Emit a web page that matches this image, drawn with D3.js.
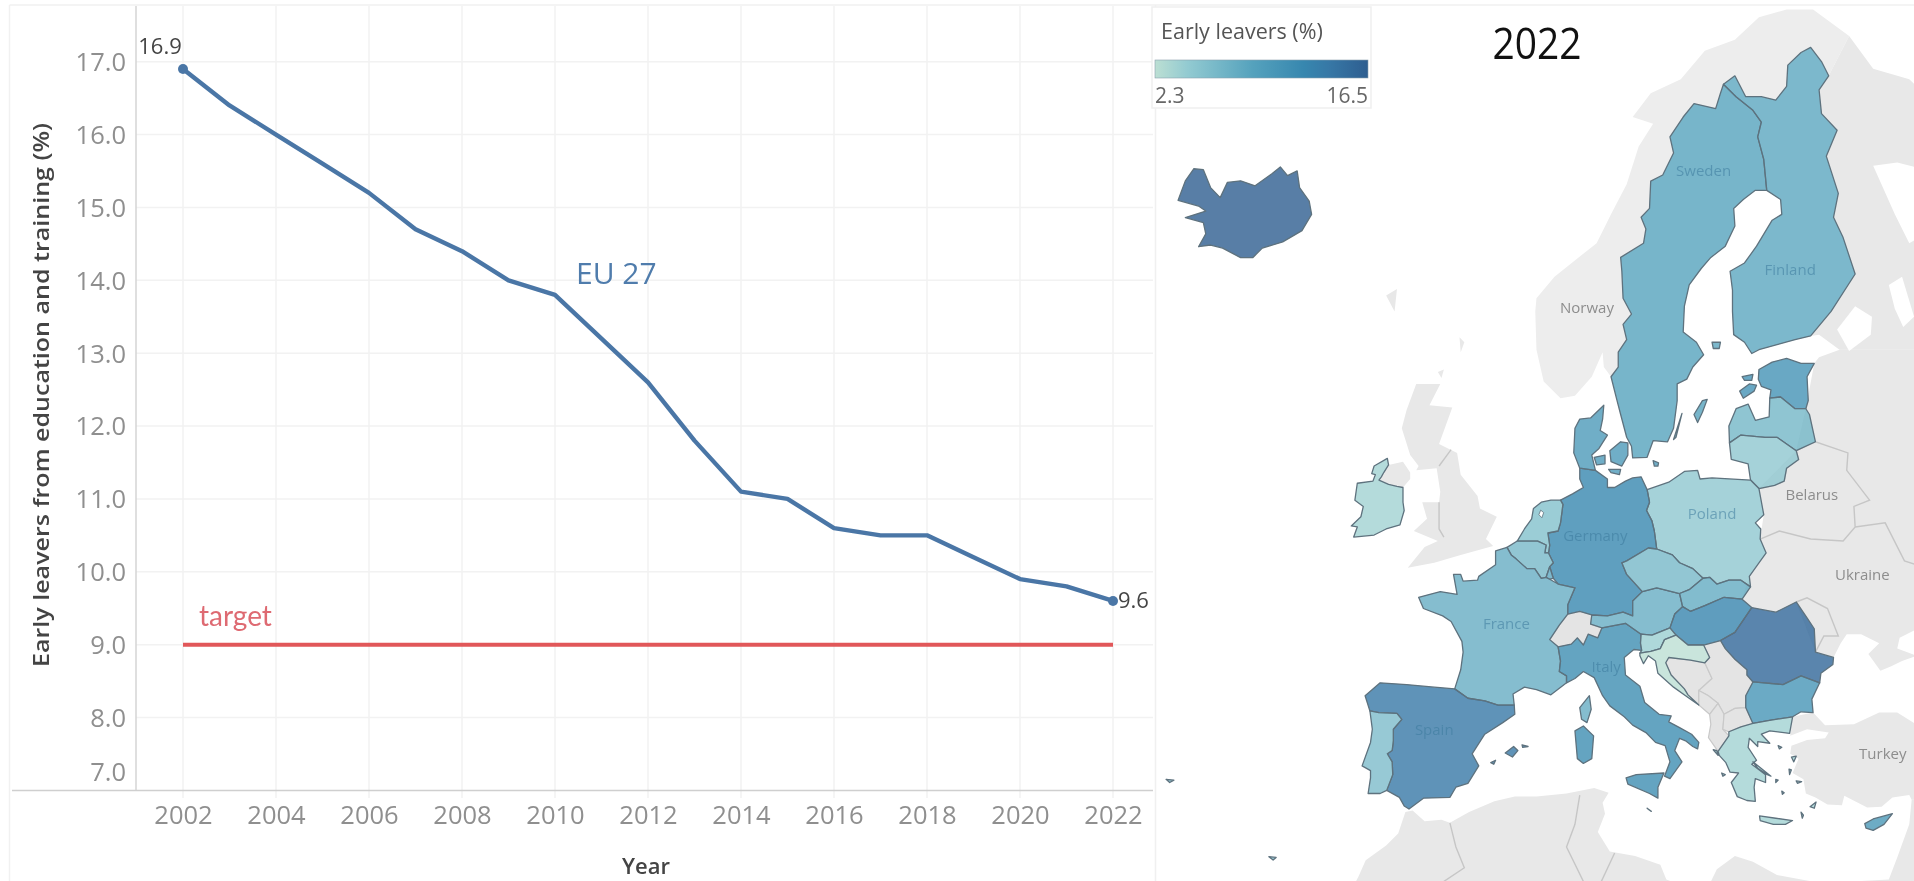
<!DOCTYPE html>
<html><head><meta charset="utf-8">
<style>html,body{margin:0;padding:0;background:#fff}svg{display:block;filter:blur(0.45px)}text{font-family:"Open Sans",sans-serif}</style>
<script src="https://cdnjs.cloudflare.com/ajax/libs/d3/7.8.5/d3.min.js"></script>
</head><body><svg id="c" width="1914" height="881"></svg>
<script>
// ---------- line chart data ----------
const years=[2002,2003,2004,2005,2006,2007,2008,2009,2010,2011,2012,2013,2014,2015,2016,2017,2018,2019,2020,2021,2022];
const earlyLeavers=[16.9,16.4,16.0,15.6,15.2,14.7,14.4,14.0,13.8,13.2,12.6,11.8,11.1,11.0,10.6,10.5,10.5,10.2,9.9,9.8,9.6];
const targetValue=[9,9];
const targetYears=[2002,2022];
const yTicks=[7,8,9,10,11,12,13,14,15,16,17];
const xTicks=[2002,2004,2006,2008,2010,2012,2014,2016,2018,2020,2022];
// ---------- map data (lon,lat rings) ----------
const euNames=["Iceland","Sweden","Finland","Estonia","Latvia","Lithuania","Poland","Germany","Denmark","Netherlands","Belgium","Luxembourg","France","Spain","Portugal","Ireland","Italy","Austria","Czechia","Slovakia","Hungary","Slovenia","Croatia","Romania","Bulgaria","Greece","Cyprus","Malta"];
const euValues=[16.5,8.8,8.4,10.8,6.7,4.8,4.8,12.2,9.8,5.6,6.4,8.2,7.6,13.9,6.0,3.7,11.5,7.6,6.4,7.8,12.4,4.1,2.3,15.6,10.5,3.7,10.2,10.1];
const euRings=[
[[[-24.8,65.47],[-24.2,66.11],[-23.5,66.5],[-22.7,66.47],[-22.1,65.89],[-21.3,65.56],[-20.7,66.06],[-19.6,66.11],[-18.4,65.95],[-17.0,66.34],[-16.3,66.56],[-15.7,66.28],[-14.9,66.43],[-14.7,65.89],[-13.9,65.44],[-13.7,65.0],[-14.5,64.44],[-16.1,64.05],[-17.8,63.83],[-18.6,63.49],[-19.6,63.49],[-21.1,63.83],[-22.1,63.94],[-23.1,63.88],[-22.5,64.33],[-22.7,64.72],[-24.2,64.89],[-22.5,65.11],[-23.1,65.28]]],
[[[20.55,69.06],[21.6,68.7],[23.0,68.3],[23.7,67.95],[23.4,67.5],[23.9,66.8],[24.15,65.8],[23.2,65.8],[22.2,65.5],[21.4,65.2],[21.5,64.6],[20.7,63.9],[19.5,63.5],[18.7,63.1],[17.7,62.5],[17.3,61.7],[17.2,60.7],[18.3,60.3],[18.9,59.8],[18.0,59.3],[17.5,58.8],[16.7,58.6],[16.7,57.9],[16.4,56.7],[15.9,56.1],[14.7,56.15],[14.2,55.4],[13.0,55.37],[12.9,55.9],[12.5,56.3],[12.0,57.3],[11.7,57.9],[11.2,58.9],[11.8,59.3],[11.8,59.9],[12.5,60.4],[12.2,61.0],[12.9,61.4],[12.2,62.0],[12.1,63.0],[12.0,63.5],[13.9,64.0],[14.1,64.5],[13.7,64.9],[14.4,65.2],[14.5,66.1],[15.5,66.3],[16.4,67.0],[16.1,67.5],[17.2,68.1],[18.1,68.5],[19.9,68.35],[20.3,68.8]],[[18.1,57.3],[18.8,57.9],[19.2,57.95],[18.8,57.4],[18.4,56.95]],[[16.4,56.2],[17.1,57.35],[16.6,56.3]]],
[[[20.55,69.06],[21.5,69.3],[22.4,68.7],[23.7,68.7],[24.9,68.6],[25.8,69.0],[25.9,69.6],[27.0,69.95],[27.8,70.09],[28.7,69.7],[29.3,69.3],[28.5,68.9],[28.7,68.2],[30.0,67.7],[29.1,66.9],[30.1,65.7],[29.7,64.9],[30.5,64.2],[31.5,62.9],[29.5,61.5],[27.8,60.55],[26.5,60.4],[25.0,60.2],[23.5,60.0],[22.9,59.85],[22.3,60.3],[21.4,60.6],[21.3,61.5],[21.3,62.3],[21.1,63.0],[22.3,63.3],[23.3,63.9],[24.6,64.8],[25.4,65.0],[25.3,65.5],[24.15,65.8],[23.9,66.8],[23.4,67.5],[23.7,67.95],[23.0,68.3],[21.6,68.7]],[[19.6,60.3],[20.3,60.3],[20.2,60.05],[19.7,60.05]]],
[[[23.5,59.2],[24.6,59.5],[25.8,59.65],[27.0,59.45],[28.1,59.45],[27.5,58.9],[27.6,57.9],[27.4,57.55],[26.5,57.55],[25.3,58.05],[24.4,58.0],[24.5,58.35],[23.7,58.5],[23.45,58.8]],[[21.9,58.3],[22.7,58.6],[23.3,58.55],[23.1,58.3],[22.2,58.0]],[[22.1,58.9],[23.0,59.0],[22.9,58.75],[22.3,58.75]]],
[[[21.0,56.8],[21.05,56.05],[22.0,56.4],[24.0,56.3],[25.0,56.3],[26.6,55.7],[28.2,56.1],[27.7,57.3],[27.4,57.55],[26.5,57.55],[25.3,58.05],[24.4,58.0],[24.35,57.2],[23.2,57.05],[22.6,57.75],[21.6,57.55]]],
[[[21.05,56.05],[21.2,55.3],[22.6,55.1],[22.8,54.35],[23.5,53.95],[24.8,54.1],[25.6,54.3],[25.8,54.9],[26.8,55.3],[26.6,55.7],[25.0,56.3],[24.0,56.3],[22.0,56.4]]],
[[[14.2,53.9],[16.0,54.25],[17.3,54.75],[18.4,54.8],[18.6,54.4],[19.6,54.45],[22.8,54.35],[23.5,53.95],[23.9,52.7],[23.2,52.3],[23.65,52.0],[23.6,51.5],[24.1,50.8],[23.5,50.3],[22.7,49.6],[22.8,49.05],[22.0,49.4],[21.0,49.4],[20.0,49.2],[19.4,49.55],[18.85,49.5],[18.0,50.0],[16.9,50.3],[16.3,50.7],[15.0,51.0],[14.8,51.9],[14.6,52.4],[14.15,52.9],[14.4,53.3]]],
[[[7.0,53.4],[8.0,53.7],[8.6,53.9],[8.9,54.0],[8.6,54.4],[8.6,54.9],[9.9,54.8],[10.9,54.4],[10.9,54.0],[11.5,54.0],[12.4,54.3],[13.0,54.45],[13.7,54.5],[14.2,53.9],[14.4,53.3],[14.15,52.9],[14.6,52.4],[14.8,51.9],[15.0,51.0],[14.3,51.05],[12.5,50.4],[12.1,50.3],[12.5,49.7],[13.8,48.8],[13.0,48.3],[13.0,47.5],[12.2,47.7],[10.9,47.5],[9.6,47.55],[8.6,47.75],[7.6,47.6],[7.6,48.1],[8.2,49.0],[6.8,49.2],[6.4,49.5],[6.1,50.1],[6.4,50.3],[6.0,50.8],[6.1,51.2],[5.95,51.8],[6.8,51.9],[7.0,52.3],[7.2,53.2]]],
[[[8.6,54.9],[8.1,55.6],[8.2,56.7],[8.6,57.1],[9.5,57.15],[10.6,57.7],[10.5,57.1],[10.3,56.6],[10.9,56.4],[10.2,55.8],[9.6,55.5],[9.9,54.8]],[[11.1,55.7],[12.0,56.1],[12.6,56.05],[12.6,55.5],[12.1,55.0],[11.2,55.2]],[[9.8,55.4],[10.7,55.5],[10.7,55.1],[10.0,55.05]],[[11.0,54.85],[12.0,54.85],[11.9,54.6],[11.2,54.7]],[[14.7,55.25],[15.15,55.15],[15.1,55.0],[14.8,55.0]]],
[[[3.4,51.4],[4.0,52.0],[4.6,52.5],[4.75,53.0],[5.4,53.3],[6.2,53.4],[7.0,53.4],[7.2,53.2],[7.0,52.3],[6.8,51.9],[5.95,51.8],[6.1,51.2],[6.0,50.8],[5.7,50.8],[5.8,51.2],[5.1,51.4],[4.3,51.4]]],
[[[2.55,51.08],[3.4,51.4],[4.3,51.4],[5.1,51.4],[5.8,51.2],[5.7,50.8],[6.0,50.8],[6.4,50.3],[6.1,50.1],[5.8,49.55],[5.4,49.5],[4.85,50.0],[4.2,50.0],[3.3,50.5],[2.9,50.7]]],
[[[5.8,49.55],[6.1,50.1],[6.4,49.5],[6.1,49.45]]],
[[[2.55,51.08],[1.6,50.9],[1.6,50.2],[0.2,49.6],[0.1,49.4],[-1.1,49.35],[-1.3,49.7],[-1.9,49.7],[-1.6,48.65],[-3.0,48.8],[-4.8,48.5],[-4.4,47.9],[-2.8,47.5],[-2.1,47.2],[-1.2,46.1],[-1.1,45.5],[-1.3,44.5],[-1.8,43.4],[-0.7,42.85],[0.7,42.7],[1.8,42.45],[3.15,42.45],[3.05,43.1],[4.0,43.5],[5.0,43.35],[6.2,43.05],[7.5,43.75],[7.5,44.15],[6.9,44.4],[7.0,45.0],[6.8,45.8],[6.1,46.2],[6.9,47.0],[7.6,47.6],[7.6,48.1],[8.2,49.0],[6.8,49.2],[6.1,49.45],[5.8,49.55],[5.4,49.5],[4.85,50.0],[4.2,50.0],[3.3,50.5],[2.9,50.7]],[[9.4,43.0],[9.55,42.2],[9.2,41.4],[8.75,41.6],[8.6,42.3]]],
[[[-1.8,43.4],[-3.5,43.5],[-5.8,43.65],[-8.0,43.75],[-9.25,43.0],[-8.85,42.1],[-8.1,42.0],[-6.6,41.95],[-6.2,41.6],[-6.9,41.0],[-6.9,40.3],[-7.0,39.7],[-7.4,39.5],[-7.0,39.0],[-6.95,38.2],[-7.45,37.2],[-6.4,36.75],[-6.0,36.2],[-5.6,36.0],[-4.4,36.7],[-2.2,36.75],[-1.7,37.4],[-0.7,37.65],[0.2,38.75],[-0.35,39.5],[0.7,40.7],[2.2,41.4],[3.2,41.9],[3.15,42.45],[1.8,42.45],[0.7,42.7],[-0.7,42.85]],[[2.4,39.55],[3.1,39.95],[3.45,39.7],[3.0,39.3]],[[3.8,40.05],[4.3,39.95],[3.85,39.9]],[[1.2,38.95],[1.6,39.1],[1.45,38.85]]],
[[[-8.85,42.1],[-8.1,42.0],[-6.6,41.95],[-6.2,41.6],[-6.9,41.0],[-6.9,40.3],[-7.0,39.7],[-7.4,39.5],[-7.0,39.0],[-6.95,38.2],[-7.45,37.2],[-8.0,37.0],[-9.0,37.0],[-8.8,38.0],[-8.8,38.45],[-9.5,38.75],[-8.8,40.2],[-8.65,41.0]],[[-25.8,37.9],[-25.15,37.85],[-25.5,37.7]],[[-28.6,38.55],[-28.0,38.45],[-28.5,38.4]],[[-17.25,32.85],[-16.65,32.8],[-16.9,32.62]]],
[[[-6.35,52.2],[-7.5,52.0],[-8.5,51.7],[-10.2,51.6],[-9.9,52.1],[-10.4,52.15],[-9.6,52.6],[-9.4,53.1],[-10.1,53.4],[-9.9,54.2],[-8.6,54.3],[-8.4,54.6],[-8.7,54.65],[-8.5,55.0],[-7.4,55.35],[-7.3,55.05],[-7.7,54.7],[-7.9,54.5],[-8.1,54.35],[-7.3,54.15],[-6.6,54.05],[-6.1,54.0],[-6.1,53.3],[-6.0,52.9]]],
[[[7.5,43.75],[8.2,44.0],[8.9,44.4],[9.8,44.05],[10.5,43.0],[11.1,42.4],[12.3,41.75],[13.0,41.25],[14.1,40.8],[14.9,40.2],[15.7,40.0],[16.1,39.0],[15.65,38.1],[16.1,37.95],[17.1,39.0],[16.5,39.7],[16.9,40.45],[17.4,40.3],[18.0,39.95],[18.4,39.8],[18.5,40.2],[17.9,40.7],[16.9,41.1],[16.0,41.45],[16.2,41.8],[15.2,41.9],[14.0,42.6],[13.6,43.55],[12.4,44.2],[12.3,45.2],[13.1,45.65],[13.75,45.6],[13.65,46.0],[13.7,46.5],[12.4,47.1],[11.2,46.95],[10.45,46.85],[10.1,46.3],[9.3,46.5],[8.9,45.9],[8.4,46.3],[7.9,45.95],[6.8,45.8],[7.0,45.0],[6.9,44.4],[7.5,44.15]],[[12.45,38.0],[13.3,38.2],[15.6,38.3],[15.1,37.4],[15.1,36.7],[14.4,37.0],[12.6,37.6]],[[8.2,40.9],[8.9,41.2],[9.75,40.6],[9.6,39.2],[8.9,38.9],[8.4,39.2]]],
[[[9.6,47.55],[10.9,47.5],[12.2,47.7],[13.0,47.5],[13.0,48.3],[13.8,48.8],[15.0,49.0],[16.9,48.7],[17.15,48.0],[16.5,47.6],[16.1,46.85],[14.6,46.45],[13.7,46.5],[12.4,47.1],[11.2,46.95],[10.45,46.85],[9.5,47.05]]],
[[[12.1,50.3],[12.5,50.4],[14.3,51.05],[15.0,51.0],[16.3,50.7],[16.9,50.3],[18.0,50.0],[18.85,49.5],[17.7,48.9],[16.9,48.7],[15.0,49.0],[13.8,48.8],[12.5,49.7]]],
[[[16.9,48.7],[17.7,48.9],[18.85,49.5],[19.4,49.55],[20.0,49.2],[21.0,49.4],[22.0,49.4],[22.8,49.05],[22.1,48.4],[20.6,48.5],[19.0,48.05],[17.8,47.75],[17.15,48.0]]],
[[[16.1,46.85],[16.5,47.6],[17.15,48.0],[17.8,47.75],[19.0,48.05],[20.6,48.5],[22.1,48.4],[22.9,47.95],[21.5,46.6],[20.3,46.15],[18.9,45.9],[17.6,45.9],[16.6,46.45]]],
[[[13.7,46.5],[14.6,46.45],[16.1,46.85],[16.6,46.45],[15.65,46.2],[15.3,45.7],[14.5,45.55],[13.6,45.45],[13.75,45.6],[13.65,46.0]]],
[[[13.6,45.45],[14.5,45.55],[15.3,45.7],[15.65,46.2],[16.6,46.45],[17.6,45.9],[18.9,45.9],[19.4,45.2],[19.0,44.9],[17.8,45.05],[16.0,45.2],[15.75,44.9],[16.2,44.2],[17.3,43.4],[17.6,43.05],[18.5,42.45],[17.9,42.75],[17.4,43.0],[16.4,43.5],[15.1,44.3],[14.9,45.0],[14.3,45.3],[13.9,44.85],[13.6,45.3]]],
[[[20.3,46.15],[21.5,46.6],[22.9,47.95],[24.9,47.7],[26.6,48.25],[27.5,47.4],[28.1,46.8],[28.2,45.5],[29.7,45.2],[29.65,44.8],[28.65,44.3],[28.55,43.75],[27.0,44.15],[25.5,43.65],[23.0,43.8],[22.5,44.2],[22.5,44.5],[21.5,45.1],[20.7,45.7]]],
[[[22.4,42.3],[22.4,43.0],[23.0,43.8],[25.5,43.65],[27.0,44.15],[28.55,43.75],[27.9,42.8],[28.0,42.0],[27.0,42.05],[26.3,41.75],[24.5,41.55],[23.0,41.35]]],
[[[20.1,39.65],[21.0,40.6],[21.0,40.85],[22.0,41.15],[23.0,41.35],[24.5,41.55],[26.3,41.75],[26.05,40.75],[24.4,40.9],[23.7,40.7],[24.4,40.15],[23.4,40.25],[23.4,39.95],[22.7,40.45],[22.6,39.9],[23.3,39.1],[22.9,38.85],[24.05,38.2],[24.05,37.7],[23.2,37.95],[23.1,37.4],[23.2,36.5],[22.5,36.55],[21.7,36.8],[21.2,37.7],[21.8,38.3],[21.1,38.35],[20.75,38.95],[20.2,39.4]],[[23.55,35.55],[24.9,35.4],[26.3,35.25],[25.7,35.0],[24.7,35.0],[23.6,35.25]],[[23.0,39.0],[24.5,38.1],[24.2,38.2],[23.4,38.6]],[[26.2,39.3],[26.6,39.35],[26.4,39.0]],[[26.0,38.55],[26.2,38.5],[26.05,38.2]],[[26.6,37.8],[27.05,37.75],[26.7,37.65]],[[27.75,36.15],[28.25,36.45],[28.1,36.05]],[[25.1,40.0],[25.4,39.9],[25.2,39.8]],[[25.4,37.15],[25.6,37.05],[25.45,36.95]],[[24.9,37.9],[25.1,37.85],[24.9,37.7]],[[27.0,35.8],[27.2,35.6],[27.1,35.4]],[[20.4,38.3],[20.7,38.2],[20.5,38.1]],[[19.7,39.75],[20.0,39.7],[20.1,39.4]]],
[[[32.3,35.05],[33.0,35.35],[34.6,35.7],[33.9,35.0],[33.0,34.6],[32.4,34.75]]],
[[[14.2,36.05],[14.55,35.85],[14.35,35.95]]]
];
const otherNames=["Switzerland","Bosnia","Serbia","Montenegro","Albania","N. Macedonia","N. Ireland","Great Britain","Norway","Russia north","East Europe","Turkey","Africa"];
const otherRings=[
[[[6.1,46.2],[6.9,47.0],[7.6,47.6],[8.6,47.75],[9.6,47.55],[9.5,47.05],[10.45,46.85],[10.1,46.3],[9.3,46.5],[8.9,45.9],[8.4,46.3],[7.9,45.95],[6.8,45.8]]],
[[[15.75,44.9],[16.0,45.2],[17.8,45.05],[19.0,44.9],[19.6,44.0],[18.5,43.3],[18.5,42.45],[17.6,43.05],[17.3,43.4],[16.2,44.2]]],
[[[18.9,45.9],[20.3,46.15],[20.7,45.7],[21.5,45.1],[22.5,44.5],[22.5,44.2],[23.0,43.8],[22.4,43.0],[22.4,42.3],[21.5,42.25],[20.6,41.9],[20.1,42.55],[19.3,43.0],[18.5,43.3],[19.6,44.0],[19.0,44.9],[19.4,45.2]]],
[[[18.5,42.45],[18.5,43.3],[19.3,43.0],[20.1,42.55],[19.4,41.9]]],
[[[19.4,41.9],[20.1,42.55],[20.6,41.9],[20.5,41.0],[21.0,40.6],[20.1,39.65],[19.3,40.5],[19.5,41.3]]],
[[[20.6,41.9],[21.5,42.25],[22.4,42.3],[23.0,41.35],[22.0,41.15],[21.0,40.85],[20.5,41.0]]],
[[[-7.3,55.05],[-6.1,55.2],[-5.5,54.7],[-5.5,54.4],[-6.1,54.0],[-6.6,54.05],[-7.3,54.15],[-8.1,54.35],[-7.9,54.5],[-7.7,54.7]]],
[[[-5.7,50.05],[-3.5,50.3],[-1.3,50.7],[1.4,51.15],[0.8,51.5],[1.7,52.6],[0.3,53.0],[0.1,53.6],[-1.3,54.6],[-1.6,55.6],[-3.1,56.0],[-2.0,57.6],[-3.9,57.7],[-3.0,58.6],[-5.0,58.6],[-5.8,57.5],[-6.2,56.7],[-5.5,55.5],[-4.8,55.0],[-5.0,54.8],[-3.3,54.9],[-3.0,53.8],[-3.1,53.3],[-4.5,53.3],[-4.1,52.5],[-5.2,51.9],[-3.2,51.4],[-4.3,51.1]],[[-1.4,60.5],[-1.0,60.3],[-1.3,59.9]],[[-3.2,59.1],[-2.7,59.2],[-2.9,58.85]],[[-7.5,62.1],[-6.6,62.35],[-6.8,61.5]]],
[[[11.2,58.9],[10.6,59.3],[10.5,59.9],[9.6,58.9],[8.2,58.1],[7.0,58.0],[5.6,58.7],[5.0,60.0],[4.9,61.5],[5.0,62.0],[6.5,62.8],[8.5,63.5],[10.0,64.0],[11.2,65.0],[12.5,66.0],[13.5,67.2],[14.7,67.9],[13.0,68.1],[14.5,68.8],[17.0,69.2],[19.0,70.0],[21.5,70.3],[23.5,70.9],[25.8,71.1],[28.0,71.1],[31.0,70.4],[29.3,69.3],[28.7,69.7],[27.8,70.09],[27.0,69.95],[25.9,69.6],[25.8,69.0],[24.9,68.6],[23.7,68.7],[22.4,68.7],[21.5,69.3],[20.55,69.06],[20.3,68.8],[19.9,68.35],[18.1,68.5],[17.2,68.1],[16.1,67.5],[16.4,67.0],[15.5,66.3],[14.5,66.1],[14.4,65.2],[13.7,64.9],[14.1,64.5],[13.9,64.0],[12.0,63.5],[12.1,63.0],[12.2,62.0],[12.9,61.4],[12.2,61.0],[12.5,60.4],[11.8,59.9],[11.8,59.3]]],
[[[31.0,70.4],[33.0,69.5],[36.0,69.2],[41.0,67.5],[40.0,66.2],[35.0,66.7],[33.0,66.6],[34.8,65.0],[36.0,64.0],[38.0,64.5],[40.0,64.6],[42.0,60.0],[30.2,60.0],[28.5,60.6],[27.8,60.55],[29.5,61.5],[31.5,62.9],[30.5,64.2],[29.7,64.9],[30.1,65.7],[29.1,66.9],[30.0,67.7],[28.7,68.2],[28.5,68.9],[29.3,69.3]]],
[[[30.2,60.0],[28.5,59.7],[28.1,59.45],[27.4,57.55],[26.6,55.7],[23.5,53.95],[23.9,52.7],[23.6,51.5],[24.1,50.8],[22.7,49.6],[22.1,48.4],[22.9,47.95],[24.9,47.7],[26.6,48.25],[28.2,45.5],[29.7,45.2],[30.3,46.0],[30.8,46.5],[32.0,46.5],[33.5,46.0],[32.6,45.4],[33.6,44.45],[34.5,44.7],[35.4,45.0],[36.6,45.3],[35.0,45.7],[35.2,46.3],[37.0,46.9],[38.5,47.1],[42.0,47.0],[42.0,60.0]]],
[[[26.3,41.75],[28.0,42.0],[29.0,41.25],[31.4,41.3],[33.5,42.0],[35.0,42.0],[37.0,41.1],[42.0,41.0],[42.0,36.6],[36.2,36.6],[36.0,36.9],[34.6,36.75],[33.7,36.15],[32.5,36.1],[30.6,36.85],[30.4,36.25],[29.2,36.3],[28.2,36.75],[27.4,37.0],[27.2,37.9],[26.3,38.3],[26.8,39.2],[26.1,39.5],[26.2,40.0],[27.5,40.35],[29.0,40.45],[29.3,40.8],[27.5,41.0],[26.1,40.6]]],
[[[-9.8,31.5],[-9.2,32.6],[-7.5,33.6],[-6.5,34.4],[-5.9,35.8],[-5.3,35.9],[-4.3,35.2],[-2.9,35.3],[-2.2,35.1],[-0.6,35.8],[1.5,36.5],[3.2,36.8],[5.0,36.8],[7.5,37.0],[9.8,37.35],[11.0,37.05],[10.5,36.4],[10.7,35.7],[10.1,34.5],[11.1,33.2],[13.2,32.9],[15.3,32.3],[15.8,31.3],[19.0,30.3],[20.0,32.0],[21.5,32.9],[23.0,32.5],[25.0,31.6],[29.0,31.0],[32.0,31.2],[34.3,31.3],[35.0,32.8],[36.0,35.0],[36.2,36.6],[42.0,37.0],[42.0,28.0],[-12.0,28.0]]]
];
const lakeRings=[
[[30.0,60.8],[31.0,59.95],[32.8,60.6],[32.9,61.3],[31.5,61.7]],
[[34.3,62.5],[35.4,62.8],[36.4,61.3],[35.5,60.9],[34.8,61.6]],
[[5.2,52.7],[5.35,52.92],[5.6,52.8],[5.45,52.55]]
];
const borderLines=[
[[23.5,53.95],[24.8,54.1],[25.6,54.3],[25.8,54.9],[26.8,55.3],[26.6,55.7],[28.2,56.1],[30.9,55.6],[30.8,54.8],[32.7,53.4],[31.4,53.1],[31.5,52.1],[30.5,51.4],[27.8,51.5],[25.2,51.9],[23.6,51.5]],
[[31.5,52.1],[34.0,52.3],[35.6,50.4],[38.0,49.9],[40.0,49.6]],
[[26.6,48.25],[27.5,48.47],[29.2,47.9],[30.1,46.4],[28.9,46.4],[28.2,45.5]],
[[-2.2,35.1],[-1.7,33.5],[-1.0,32.1],[-3.0,31.0]],
[[8.6,36.9],[8.2,35.0],[7.5,33.5],[9.0,31.0]],
[[11.5,33.1],[10.3,31.0]],
[[-3.1,53.3],[-3.1,52.0],[-2.7,51.6]],
[[-3.1,55.0],[-2.1,55.75]]
];
const landLabels=["Norway","Belarus","Ukraine","Turkey"];
const landLabelLon=[9.2,27.9,32.1,33.8];
const landLabelLat=[61.6,53.6,49.6,39.4];
const euLabels=["Sweden","Finland","Poland","Germany","France","Italy","Spain"];
const euLabelLon=[18.9,26.1,19.6,9.9,2.5,10.8,-3.5];
const euLabelLat=[66.4,63.0,52.7,51.6,47.0,44.6,40.9];
const legendDomain=[2.3,16.5];
const colorStopValues=[2.3,4.5,8.8,12.2,13.9,16.5];
const colorStops=["#bcdfd3","#92cad1","#55a2bd","#3787af","#3778a6","#2e5e90"];

// ---------- scales ----------
const svg=d3.select("#c");
const x=d3.scaleLinear().domain([2002,2022]).range([183,1113]);
const y=d3.scaleLinear().domain([7,17]).range([790.4,61.7]);
const color=d3.scaleLinear().domain(colorStopValues).range(colorStops);
const lonX=d3.scaleLinear().domain([-5.6,29.7]).range([1409,1833.5]);
const mercY=d3.scaleLinear().domain([0.6743,1.742]).range([809,46]);
const merc=lat=>Math.log(Math.tan(Math.PI/4+lat*Math.PI/360));
const proj=d3.geoTransform({point(lon,lat){this.stream.point(lonX(lon),mercY(merc(lat)));}});
const path=d3.geoPath(proj);
const closeRing=r=>[...r,r[0]];
const mp=rings=>({type:"MultiPolygon",coordinates:rings.map(r=>[closeRing(r)])});

// ---------- panel frame ----------
svg.append("line").attr("x1",9.5).attr("x2",9.5).attr("y1",5).attr("y2",881).attr("stroke","#f1f1f1").attr("stroke-width",1.5);
svg.append("line").attr("x1",9.5).attr("x2",1914).attr("y1",5).attr("y2",5).attr("stroke","#f1f1f1").attr("stroke-width",1.5);

// ---------- grid ----------
svg.append("g").selectAll("line").data(yTicks.slice(1)).join("line")
 .attr("x1",136).attr("x2",1153).attr("y1",d=>y(d)).attr("y2",d=>y(d)).attr("stroke","#f2f2f2").attr("stroke-width",1.5);
svg.append("g").selectAll("line").data(xTicks).join("line")
 .attr("x1",d=>x(d)).attr("x2",d=>x(d)).attr("y1",6).attr("y2",798).attr("stroke","#f2f2f2").attr("stroke-width",1.5);
svg.append("line").attr("x1",136).attr("x2",136).attr("y1",6).attr("y2",790).attr("stroke","#d4d4d4").attr("stroke-width",1.5);
svg.append("line").attr("x1",12).attr("x2",1153).attr("y1",790.4).attr("y2",790.4).attr("stroke","#cfcfcf").attr("stroke-width",1.5);

// ---------- axes ----------
const ya=svg.append("g").attr("transform","translate(136,0)").call(d3.axisLeft(y).tickValues(yTicks).tickFormat(d3.format(".1f")).tickSize(0).tickPadding(10));
ya.select(".domain").remove();
ya.selectAll("text").attr("font-size",25.5).attr("fill","#8f8f8f").attr("dy",d=>d===7?"-0.38em":"0.35em").style("font-family",'"Open Sans"');
const xa=svg.append("g").attr("transform","translate(0,790.4)").call(d3.axisBottom(x).tickValues(xTicks).tickFormat(d3.format("d")).tickSize(0).tickPadding(16));
xa.select(".domain").remove();
xa.selectAll("text").attr("font-size",25.5).attr("fill","#8f8f8f").style("font-family",'"Open Sans"');
svg.append("text").attr("transform","translate(43,395) rotate(-90)").attr("text-anchor","middle").attr("dominant-baseline","middle").attr("font-size",22).attr("font-weight",600).attr("fill","#444").attr("textLength",544).attr("lengthAdjust","spacingAndGlyphs").text("Early leavers from education and training (%)");
svg.append("text").attr("x",646).attr("y",868).attr("text-anchor","middle").attr("dominant-baseline","middle").attr("font-size",22).attr("font-weight",600).attr("fill","#444").text("Year");

// ---------- lines ----------
const line=d3.line().x((d,i)=>x(years[i])).y(d=>y(d));
svg.append("path").datum(earlyLeavers).attr("d",line).attr("fill","none").attr("stroke","#4a76a6").attr("stroke-width",4.4).attr("stroke-linejoin","round");
svg.append("g").selectAll("circle").data([0,years.length-1]).join("circle").attr("cx",i=>x(years[i])).attr("cy",i=>y(earlyLeavers[i])).attr("r",5).attr("fill","#4a76a6");
const tline=d3.line().x((d,i)=>x(targetYears[i])).y(d=>y(d));
svg.append("path").datum(targetValue).attr("d",tline).attr("fill","none").attr("stroke","#e15759").attr("stroke-width",4);
svg.append("text").attr("x",x(2002)-23).attr("y",y(earlyLeavers[0])-21).attr("text-anchor","middle").attr("dominant-baseline","middle").attr("font-size",22).attr("fill","#444").text(earlyLeavers[0].toFixed(1));
svg.append("text").attr("x",x(2022)+5).attr("y",y(earlyLeavers[20])+1).attr("dominant-baseline","middle").attr("font-size",22).attr("fill","#444").text(earlyLeavers[20].toFixed(1));
svg.append("text").attr("x",576).attr("y",276).attr("dominant-baseline","middle").attr("font-size",30).attr("fill","#4f7cac").text("EU 27");
svg.append("text").attr("x",199).attr("y",619).attr("dominant-baseline","middle").attr("font-size",28).attr("fill","#de6a72").style("font-family","Lato").text("target");

// ---------- map ----------
svg.append("clipPath").attr("id","mapclip").append("rect").attr("x",1156).attr("y",6).attr("width",760).attr("height",875);
const map=svg.append("g").attr("clip-path","url(#mapclip)");
map.append("g").selectAll("path").data(otherRings).join("path").attr("d",r=>path(mp(r))).attr("fill",(r,i)=>otherNames[i]==="Norway"?"#ededed":"#e8e8e8").attr("stroke","none");
// Balkan + Swiss neighbours show a visible light border
map.append("g").selectAll("path").data(otherRings.slice(0,6)).join("path").attr("d",r=>path(mp(r))).attr("fill","#e4e4e4").attr("stroke","#c9c9c9").attr("stroke-width",1.2);
map.append("g").selectAll("path").data(borderLines).join("path").attr("d",l=>path({type:"LineString",coordinates:l})).attr("fill","none").attr("stroke","#c6c6c6").attr("stroke-width",1.4);
map.append("g").selectAll("path").data(lakeRings).join("path").attr("d",l=>path({type:"Polygon",coordinates:[closeRing(l)]})).attr("fill","#fff");
map.append("g").selectAll("path").data(euRings).join("path").attr("d",r=>path(mp(r))).attr("fill",(r,i)=>color(euValues[i])).attr("fill-opacity",.8).attr("stroke","#5e727e").attr("stroke-width",1.3).attr("stroke-linejoin","round").append("title").text((r,i)=>euNames[i]);
map.append("path").attr("d",path({type:"Polygon",coordinates:[closeRing(lakeRings[2])]})).attr("fill","#fff").attr("stroke","#5e727e").attr("stroke-width",.8);
map.append("g").selectAll("text").data(landLabels).join("text").attr("x",(d,i)=>lonX(landLabelLon[i])).attr("y",(d,i)=>mercY(merc(landLabelLat[i]))).attr("text-anchor","middle").attr("dominant-baseline","middle").attr("font-size",15).attr("fill","#8d8d8d").text(d=>d);
map.append("g").selectAll("text").data(euLabels).join("text").attr("x",(d,i)=>lonX(euLabelLon[i])).attr("y",(d,i)=>mercY(merc(euLabelLat[i]))).attr("text-anchor","middle").attr("dominant-baseline","middle").attr("font-size",15).attr("fill","#3d7a9c").attr("fill-opacity",.55).text(d=>d);
svg.append("line").attr("x1",1155.5).attr("x2",1155.5).attr("y1",5).attr("y2",881).attr("stroke","#f0f0f0").attr("stroke-width",1.5);

// ---------- title & legend ----------
svg.append("text").attr("x",1537).attr("y",44).attr("text-anchor","middle").attr("font-size",43).attr("fill","#111").attr("textLength",89).attr("lengthAdjust","spacingAndGlyphs").attr("dominant-baseline","middle").attr("dy",3).text("2022");
svg.append("rect").attr("x",1152).attr("y",7).attr("width",219).attr("height",101).attr("fill","#fff").attr("stroke","#efefef").attr("stroke-width",1.5);
const grad=svg.append("defs").append("linearGradient").attr("id","lg");
grad.selectAll("stop").data(colorStopValues).join("stop").attr("offset",d=>(d-legendDomain[0])/(legendDomain[1]-legendDomain[0])).attr("stop-color",d=>color(d));
svg.append("rect").attr("x",1155).attr("y",60).attr("width",213).attr("height",18).attr("fill","url(#lg)").attr("stroke","#8aa0ad").attr("stroke-width",.6);
svg.append("text").attr("x",1161).attr("y",33).attr("dominant-baseline","middle").attr("font-size",21.5).attr("fill","#555").text("Early leavers (%)");
svg.append("text").attr("x",1155).attr("y",97).attr("dominant-baseline","middle").attr("font-size",21).attr("fill","#666").text(legendDomain[0]);
svg.append("text").attr("x",1368).attr("y",97).attr("text-anchor","end").attr("dominant-baseline","middle").attr("font-size",21).attr("fill","#666").text(legendDomain[1]);
</script></body></html>
